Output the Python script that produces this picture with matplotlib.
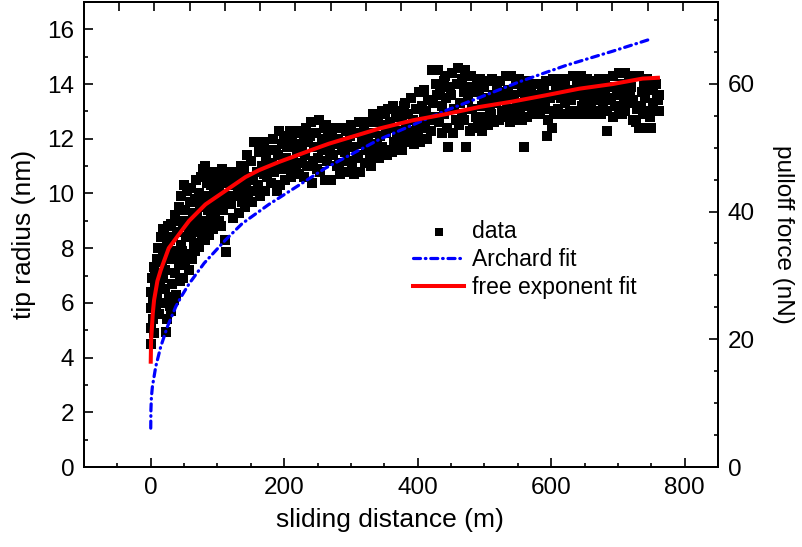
import numpy as np
import matplotlib
matplotlib.use("Agg")
import matplotlib.pyplot as plt
from matplotlib.ticker import MultipleLocator, NullFormatter

plt.rcParams['font.family'] = ['Liberation Sans', 'DejaVu Sans']

dist = [
    0, 0, 1, 1, 2, 3,
    4, 5, 5, 6, 7, 8,
    9, 10, 11, 12, 13, 14,
    15, 16, 17, 18, 19, 19,
    20, 21, 22, 23, 24, 24,
    25, 26, 27, 28, 29, 29,
    30, 31, 32, 33, 34, 35,
    36, 37, 38, 39, 40, 41,
    42, 43, 44, 45, 46, 47,
    48, 49, 50, 51, 52, 53,
    54, 55, 56, 57, 58, 59,
    60, 61, 62, 63, 64, 65,
    66, 67, 68, 69, 70, 71,
    72, 73, 74, 75, 76, 77,
    78, 79, 80, 81, 82, 83,
    84, 85, 86, 87, 88, 89,
    90, 91, 92, 93, 94, 95,
    96, 97, 98, 99, 100, 101,
    102, 103, 104, 105, 106, 107,
    108, 110, 112, 113, 115, 117,
    120, 122, 123, 125, 127, 129,
    131, 132, 134, 136, 137, 139,
    140, 141, 143, 144, 146, 148,
    150, 152, 153, 155, 157, 159,
    161, 162, 164, 166, 167, 169,
    170, 171, 173, 174, 176, 178,
    180, 182, 183, 185, 187, 189,
    191, 192, 194, 196, 197, 199,
    200, 201, 203, 204, 206, 208,
    210, 212, 213, 215, 217, 219,
    221, 222, 224, 226, 227, 229,
    230, 231, 233, 234, 236, 238,
    240, 242, 243, 245, 247, 249,
    251, 252, 254, 256, 257, 259,
    260, 261, 263, 264, 266, 268,
    270, 272, 273, 275, 277, 279,
    281, 282, 284, 286, 287, 289,
    290, 291, 293, 294, 296, 298,
    300, 302, 303, 305, 307, 309,
    311, 312, 314, 316, 317, 319,
    320, 321, 323, 324, 326, 328,
    330, 332, 333, 335, 337, 339,
    341, 342, 344, 346, 347, 349,
    350, 351, 353, 354, 356, 358,
    360, 362, 363, 365, 367, 369,
    371, 372, 374, 376, 377, 379,
    380, 381, 383, 384, 386, 388,
    390, 392, 393, 395, 397, 399,
    401, 402, 404, 406, 407, 409,
    410, 411, 413, 414, 416, 418,
    420, 422, 423, 425, 427, 429,
    431, 432, 434, 436, 437, 439,
    440, 441, 443, 444, 446, 448,
    450, 452, 453, 455, 457, 459,
    461, 462, 464, 466, 467, 469,
    470, 471, 473, 474, 476, 478,
    480, 482, 483, 485, 487, 489,
    491, 492, 494, 496, 497, 499,
    500, 501, 503, 504, 506, 508,
    510, 512, 513, 515, 517, 519,
    521, 522, 524, 526, 527, 529,
    530, 531, 533, 534, 536, 538,
    540, 542, 543, 545, 547, 549,
    551, 552, 554, 556, 557, 559,
    560, 561, 563, 564, 566, 568,
    570, 572, 573, 575, 577, 579,
    581, 582, 584, 586, 587, 589,
    590, 591, 593, 594, 596, 598,
    600, 602, 603, 605, 607, 609,
    611, 612, 614, 616, 617, 619,
    620, 621, 623, 624, 626, 628,
    630, 632, 633, 635, 637, 639,
    641, 642, 644, 646, 647, 649,
    650, 651, 653, 654, 656, 658,
    660, 662, 663, 665, 667, 669,
    671, 672, 674, 676, 677, 679,
    680, 681, 683, 684, 686, 688,
    690, 692, 693, 695, 697, 699,
    701, 702, 704, 706, 707, 709,
    710, 711, 713, 714, 716, 718,
    720, 722, 723, 725, 727, 729,
    731, 732, 734, 736, 737, 739,
    740, 741, 743, 744, 746, 748,
    750, 752, 753, 755, 757, 759,
    760, 761, 762,
]
radius = [
    4.5, 5.1, 5.8, 6.4, 6.9, 5.4,
    6.1, 7.3, 4.9, 6.6, 7.0, 5.9,
    7.6, 6.3, 8.0, 5.6, 7.1, 6.8,
    8.4, 6.0, 7.5, 8.7, 6.9, 7.9,
    8.6, 7.2, 6.5, 4.95, 8.1, 7.7,
    5.4, 8.8, 6.2, 7.6, 5.9, 8.3,
    5.7, 8.9, 6.7, 7.9, 8.4, 6.1,
    9.2, 7.1, 6.3, 8.6, 7.6, 9.0,
    7.4, 9.5, 6.8, 8.1, 9.9, 7.9,
    8.8, 6.9, 10.3, 7.5, 9.4, 8.4,
    10.1, 7.8, 9.0, 8.6, 7.2, 9.7,
    8.5, 10.2, 7.6, 9.3, 8.9, 8.1,
    9.8, 7.9, 10.5, 8.7, 9.2, 8.2,
    8.05, 10.0, 9.5, 8.6, 10.6, 8.4,
    9.0, 10.9, 9.7, 8.3, 11.0, 9.9,
    10.4, 8.8, 9.4, 10.7, 8.5, 9.9,
    9.1, 10.3, 10.8, 9.6, 8.7, 10.1,
    10.5, 9.2, 8.9, 10.0, 10.7, 9.5,
    10.2, 9.0, 10.6, 9.7, 8.8, 10.9,
    9.4, 10.4, 8.3, 7.85, 9.9, 10.6,
    9.6, 10.8, 9.1, 10.3, 9.9, 10.5,
    10.0, 9.3, 10.7, 11.0, 9.7, 10.4,
    10.9, 9.5, 10.2, 11.4, 9.9, 10.6,
    11.2, 9.7, 10.5, 11.9, 10.1, 10.8,
    10.3, 11.5, 9.9, 11.0, 11.8, 10.7,
    11.9, 10.1, 11.3, 10.6, 11.6, 10.9,
    10.4, 11.1, 12.0, 10.8, 11.6, 10.1,
    11.4, 12.3, 10.3, 11.8, 10.9, 11.1,
    12.1, 10.5, 11.3, 11.7, 10.9, 12.3,
    10.6, 11.9, 11.2, 12.2, 10.9, 11.5,
    11.8, 10.7, 12.3, 11.1, 11.5, 12.0,
    10.6, 11.4, 12.4, 11.0, 11.9, 12.1,
    12.6, 10.4, 11.2, 11.7, 12.2, 10.9,
    11.3, 12.7, 10.8, 12.0, 11.6, 12.4,
    11.9, 10.5, 12.5, 11.2, 12.1, 11.5,
    10.5, 12.2, 11.4, 11.8, 12.4, 11.0,
    12.0, 11.1, 10.7, 12.4, 11.6, 11.9,
    10.8, 11.5, 12.3, 11.9, 11.2, 12.1,
    12.5, 11.0, 11.7, 10.7, 12.2, 11.4,
    11.3, 12.6, 10.8, 12.0, 11.8, 12.3,
    12.4, 11.1, 11.6, 12.6, 11.9, 11.3,
    11.0, 12.2, 12.9, 11.5, 12.6, 11.8,
    12.8, 11.3, 12.1, 13.0, 11.7, 12.5,
    11.6, 12.9, 12.2, 11.4, 13.1, 12.6,
    12.4, 11.5, 13.2, 11.9, 12.8, 12.1,
    13.0, 11.7, 12.3, 12.8, 11.6, 13.2,
    11.9, 13.3, 12.5, 12.0, 12.9, 12.3,
    13.5, 12.1, 12.7, 11.8, 13.1, 12.4,
    12.2, 13.7, 11.9, 13.2, 12.6, 12.9,
    13.8, 12.4, 13.0, 12.0, 13.4, 12.7,
    12.3, 14.5, 13.3, 12.8, 14.0, 13.6,
    14.5, 12.6, 13.8, 12.2, 13.2, 14.1,
    12.9, 14.3, 13.5, 12.4, 11.7, 13.9,
    13.6, 14.4, 12.2, 13.1, 12.7, 14.0,
    14.6, 12.5, 13.3, 12.9, 14.2, 13.7,
    12.7, 14.5, 11.7, 13.9, 13.4, 12.3,
    14.3, 13.1, 12.4, 13.7, 12.8, 14.0,
    12.6, 13.8, 14.2, 13.2, 12.3, 13.5,
    13.9, 12.8, 13.4, 14.1, 12.5, 13.1,
    12.9, 14.2, 13.6, 12.6, 13.3, 13.9,
    13.7, 12.7, 14.1, 13.0, 13.4, 12.9,
    12.8, 13.5, 14.3, 13.1, 13.8, 12.6,
    14.3, 13.0, 12.7, 13.6, 14.0, 13.3,
    13.2, 14.2, 12.9, 13.7, 12.7, 13.9,
    11.7, 13.5, 14.1, 12.8, 13.2, 13.8,
    13.9, 12.9, 13.4, 14.0, 13.1, 13.6,
    13.3, 14.0, 12.9, 13.7, 13.5, 13.1,
    13.8, 13.2, 14.1, 12.1, 12.7, 13.5,
    13.6, 12.4, 14.2, 13.0, 13.9, 12.9,
    13.1, 14.0, 13.5, 12.9, 14.2, 13.7,
    14.1, 13.3, 12.9, 13.8, 13.5, 13.0,
    13.4, 14.3, 13.0, 13.7, 12.9, 14.0,
    12.9, 13.6, 14.3, 13.2, 13.9, 13.5,
    13.8, 13.0, 13.4, 14.2, 12.9, 13.6,
    13.2, 14.1, 12.9, 13.7, 13.5, 13.0,
    14.2, 13.4, 12.9, 13.9, 13.1, 13.6,
    13.7, 14.2, 13.0, 12.3, 13.4, 13.9,
    13.5, 12.8, 14.3, 13.2, 13.9, 13.6,
    14.4, 13.1, 13.7, 12.9, 14.0, 13.4,
    13.0, 14.4, 13.6, 13.3, 14.1, 13.8,
    13.9, 12.7, 13.4, 14.3, 12.6, 13.1,
    12.4, 14.3, 13.2, 13.7, 12.9, 14.0,
    13.5, 12.4, 14.2, 13.0, 13.8, 12.8,
    12.4, 13.9, 13.3, 13.0, 14.0, 13.6,
    13.4, 13.0, 13.6,
]

# Archard fit curve (sampled from the plot)
archard_d = [0, 0.3, 1, 2.5, 7.5, 15, 25, 37.5, 45, 57.5, 80, 112, 137, 177,
             227, 262, 342, 392, 442, 492, 552, 622, 692, 751]
archard_r = [1.42, 2.1, 2.55, 2.94, 3.67, 4.4, 5.13, 5.86, 6.2, 6.7, 7.45, 8.3,
             8.9, 9.6, 10.38, 10.93, 11.97, 12.5, 13.03, 13.5, 14.08, 14.68,
             15.2, 15.66]

# free exponent fit curve (sampled from the plot)
free_d = [0, 0.5, 1.5, 3, 5, 10, 15, 27, 47, 57.5, 82, 142, 162, 192, 242,
          267, 342, 392, 442, 492, 542, 592, 642, 692, 737, 760]
free_r = [3.85, 4.6, 5.0, 5.6, 6.1, 6.8, 7.2, 8.0, 8.66, 9.0, 9.6, 10.6, 10.85,
          11.15, 11.6, 11.82, 12.37, 12.67, 12.9, 13.16, 13.36, 13.59, 13.83,
          14.0, 14.2, 14.23]

fig = plt.figure(figsize=(8.02, 5.47), dpi=100)
ax = fig.add_axes([84/802, 1 - 467/547, 634/802, 465/547])

ax.scatter(dist, radius, marker='s', s=42, color='black', linewidths=0,
           label='data', zorder=2)
ax.plot(archard_d, archard_r, color='#0000ff', lw=2.3,
        linestyle=(0, (2.2, 1.5, 0.2, 1.5)), dash_capstyle='round',
        label='Archard fit', zorder=3)
ax.plot(free_d, free_r, color='#ff0000', lw=2.9, label='free exponent fit',
        zorder=4)

ax.set_xlim(-100, 850)
ax.set_ylim(0, 17)
ax.xaxis.set_major_locator(MultipleLocator(200))
ax.xaxis.set_minor_locator(MultipleLocator(50))
ax.yaxis.set_major_locator(MultipleLocator(2))
ax.yaxis.set_minor_locator(MultipleLocator(1))
ax.tick_params(which='both', direction='in', top=False, right=False,
               labelsize=17.5, width=1.2)
ax.tick_params(which='major', length=6.5, pad=7)
ax.tick_params(which='minor', length=3)
ax.set_xlabel('sliding distance (m)', fontsize=19, labelpad=7)
ax.xaxis.label.set_x(0.482)
ax.set_ylabel('tip radius (nm)', fontsize=19, labelpad=8)

# right axis: pulloff force
ax_r = ax.twinx()
ax_r.set_ylim(0, 72.8)
ax_r.yaxis.set_major_locator(MultipleLocator(20))
ax_r.yaxis.set_minor_locator(MultipleLocator(5))
ax_r.tick_params(which='both', direction='in', labelsize=17.5, width=1.2)
ax_r.tick_params(which='major', length=6.5, pad=7)
ax_r.tick_params(which='minor', length=3)
ax_r.set_ylabel('pulloff force (nN)', fontsize=17.5, rotation=-90,
                va='bottom', labelpad=12)

# top axis ticks without labels
ax_t = ax.twiny()
ax_t.set_xlim(0, 18)
ax_t.xaxis.set_major_locator(MultipleLocator(1))
ax_t.xaxis.set_major_formatter(NullFormatter())
ax_t.tick_params(direction='in', length=6.5, width=1.2)

for a in (ax, ax_r, ax_t):
    for sp in a.spines.values():
        sp.set_linewidth(1.3)

leg = ax.legend(loc='upper left', bbox_to_anchor=(0.505, 0.55), frameon=False,
                fontsize=16.5, handlelength=2.2, handletextpad=0.35,
                labelspacing=0.2, borderaxespad=0, markerscale=0.8)

fig.savefig('out.png', dpi=100)
